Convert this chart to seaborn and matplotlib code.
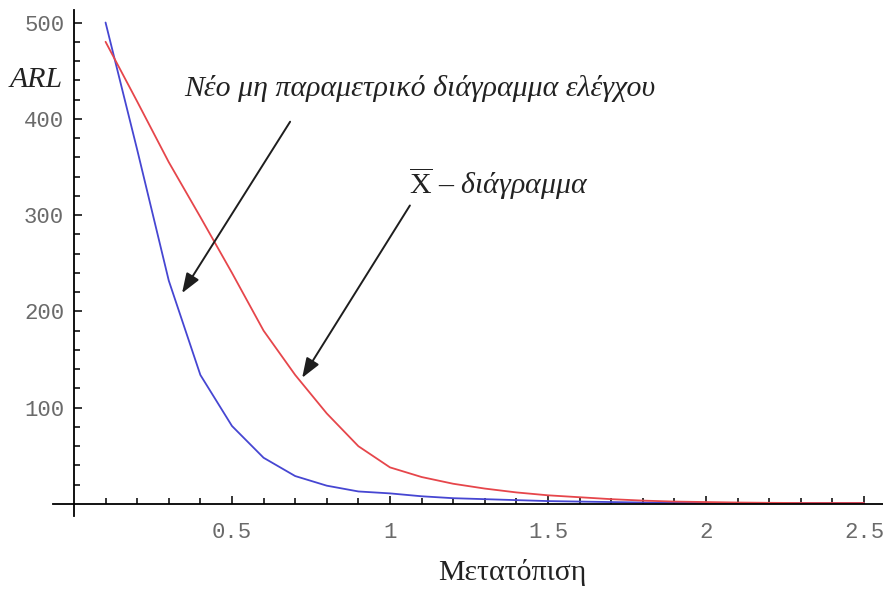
import matplotlib
matplotlib.use('Agg')
import matplotlib.pyplot as plt
import seaborn as sns
import pandas as pd
from matplotlib.ticker import FixedLocator, NullFormatter

# ---- data ----
shift = [0.1, 0.2, 0.3, 0.4, 0.5, 0.6, 0.7, 0.8, 0.9, 1.0,
         1.1, 1.2, 1.3, 1.4, 1.5, 1.6, 1.7, 1.8, 1.9, 2.0,
         2.1, 2.2, 2.3, 2.4, 2.5]
arl_nonparam = [500, 368, 232, 134, 81, 48, 29, 19, 13, 11,
                8, 6, 5, 4, 3, 2.5, 2, 1.5, 1.2, 1,
                1, 1, 1, 1, 1]
arl_xbar = [480, 418, 355, 298, 240, 180, 134, 94, 60, 38,
            28, 21, 16, 12, 9, 7, 5, 3.5, 2.5, 2,
            1.5, 1.2, 1, 1, 1]
series_names = ["Νέο μη παραμετρικό διάγραμμα ελέγχου", "X – διάγραμμα"]
x_major = [0.5, 1.0, 1.5, 2.0, 2.5]
x_labels = ["0.5", "1", "1.5", "2", "2.5"]
y_major = [100, 200, 300, 400, 500]
y_labels = ["100", "200", "300", "400", "500"]
x_minor = shift
y_minor = [20, 40, 60, 80, 120, 140, 160, 180, 220, 240, 260, 280,
           320, 340, 360, 380, 420, 440, 460, 480]

sns.set_style('white')
plt.rcParams['font.family'] = ['Liberation Serif', 'DejaVu Serif']
plt.rcParams['mathtext.fontset'] = 'custom'
plt.rcParams['mathtext.rm'] = 'Liberation Serif'
plt.rcParams['mathtext.it'] = 'Liberation Serif:italic'

n = len(shift)
df = pd.DataFrame({
    'shift': shift + shift,
    'ARL': arl_nonparam + arl_xbar,
    'chart': [series_names[0]] * n + [series_names[1]] * n,
})

fig = plt.figure(figsize=(8.83, 5.89), dpi=100)
ax = fig.add_axes([0, 0, 1, 1])
sns.lineplot(data=df, x='shift', y='ARL', hue='chart', hue_order=series_names,
             palette=['#4646d2', '#e6464b'], linewidth=1.3, legend=False, ax=ax,
             estimator=None, sort=True)
ax.set_xlabel('')
ax.set_ylabel('')

ax.set_xlim(-0.234, 2.560)
ax.set_ylim(-88.3, 523.4)

for s in ['top', 'right']:
    ax.spines[s].set_visible(False)
ax.spines['left'].set_position(('data', 0))
ax.spines['bottom'].set_position(('data', 0))
ax.spines['left'].set_bounds(-12.5, 513)
ax.spines['bottom'].set_bounds(-0.066, 2.560)
for s in ['left', 'bottom']:
    ax.spines[s].set_color('black')
    ax.spines[s].set_linewidth(1.3)

ax.xaxis.set_major_locator(FixedLocator(x_major))
ax.set_xticklabels(x_labels)
ax.xaxis.set_minor_locator(FixedLocator(x_minor))
ax.yaxis.set_major_locator(FixedLocator(y_major))
ax.set_yticklabels(y_labels)
ax.yaxis.set_minor_locator(FixedLocator(y_minor))
ax.xaxis.set_minor_formatter(NullFormatter())
ax.yaxis.set_minor_formatter(NullFormatter())
ax.tick_params(which='both', direction='in', color='black', width=1.1,
               bottom=True, left=True)
ax.tick_params(which='major', length=5.5)
ax.tick_params(which='minor', length=4)
ax.tick_params(axis='x', which='major', pad=13)
ax.tick_params(axis='y', which='major', pad=7)
for lab in ax.get_xticklabels() + ax.get_yticklabels():
    lab.set_fontfamily('Liberation Mono')
    lab.set_fontsize(16)
    lab.set_color('#6a6a6a')

# ---- text annotations ----
ax.text(-0.12, 440, 'ARL', fontsize=21.5, fontstyle='italic', color='#222222',
        ha='center', va='center')
ax.text(1.095, 432, series_names[0], fontsize=21.5, fontstyle='italic',
        color='#222222', ha='center', va='center')
ax.text(1.345, 333, r'$\overline{\mathrm{X}}$ – διάγραμμα', fontsize=21.5,
        fontstyle='italic', color='#222222', ha='center', va='center')
ax.text(1.386, -71.6, 'Μετατόπιση', fontsize=21.5, color='#222222',
        ha='center', va='center')

arrow_style = dict(arrowstyle='-|>,head_length=0.6,head_width=0.22',
                   color='#1e1e1e', lw=1.4, mutation_scale=20,
                   shrinkA=0, shrinkB=0)
ax.annotate('', xy=(0.342, 219), xytext=(0.684, 397), arrowprops=arrow_style)
ax.annotate('', xy=(0.722, 131), xytext=(1.063, 310), arrowprops=arrow_style)

fig.savefig('out.png', dpi=100, facecolor='white')
